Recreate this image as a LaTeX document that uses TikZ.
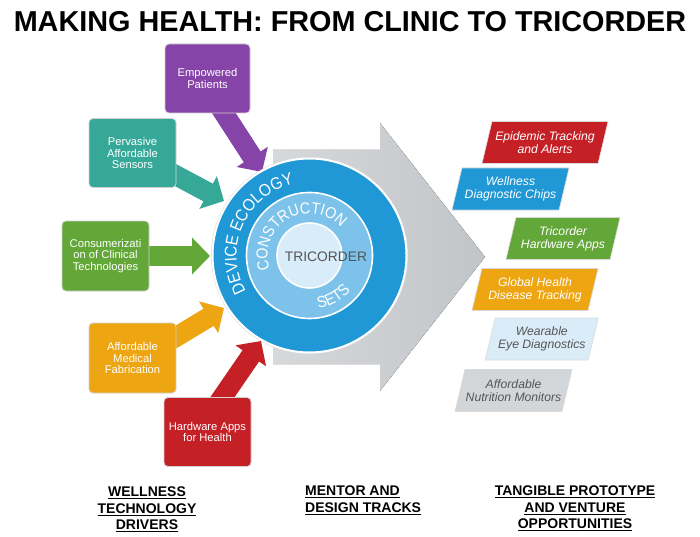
\documentclass[tikz,border=0pt]{standalone}
\usepackage{fontspec}
\setmainfont{Liberation Sans}
\newfontfamily\ringff[FakeStretch=0.9]{Liberation Sans}
\usetikzlibrary{arrows.meta,decorations.text}
\definecolor{cpurple}{HTML}{8644A8}
\definecolor{cteal}{HTML}{35A898}
\definecolor{cgreen}{HTML}{62A738}
\definecolor{corange}{HTML}{EDA512}
\definecolor{cred}{HTML}{C42026}
\definecolor{cblue}{HTML}{1F98D5}
\definecolor{cmid}{HTML}{7CC2EA}
\definecolor{cin}{HTML}{D8ECF9}
\definecolor{cpale}{HTML}{DAECF8}
\definecolor{cgray}{HTML}{D3D6D9}
\definecolor{ctxt}{HTML}{555555}
\definecolor{arrowL}{HTML}{D6D8DA}
\definecolor{arrowR}{HTML}{C2C5C8}
\newsavebox\ulbox
\newcommand\myul[1]{\sbox\ulbox{#1}\rlap{\rule[-2.4pt]{\wd\ulbox}{1.3pt}}\usebox\ulbox}
\newcommand\ringfont{\ringff\fontsize{17}{17}\selectfont}
\newcommand\midfont{\ringff\fontsize{16}{16}\selectfont}
\newcommand\opp[6]{%
  \begin{scope}[shift={(#2)}]
    \filldraw[fill=#4, draw=black!15, line width=0.6pt]
      (-#3/2-5,-21) -- (#3/2-5,-21) -- (#3/2+5,21) -- (-#3/2+5,21) -- cycle;
    \node[optext, text=#5] (#1) at (0,0) {#6};
  \end{scope}}
\begin{document}
\begin{tikzpicture}[x=1pt,y=1pt,
  drv/.style={rounded corners=4pt, draw=black!18, line width=0.8pt,
    minimum width=87pt, minimum height=69pt, align=center, text=white,
    font=\fontsize{11.2}{11.5}\selectfont, inner sep=2pt},
  blockarrow/.style={line width=20pt, -{Triangle[length=18pt,width=36pt]}},
  optext/.style={align=center, font=\fontsize{12.2}{13}\selectfont\itshape},
  lab/.style={align=center, inner sep=0pt, font=\fontsize{14}{16.5}\selectfont\bfseries}]
\useasboundingbox (0,0) rectangle (700,-537);

% title
\node[anchor=base, font=\fontsize{28.8}{30}\selectfont\bfseries] (title) at (350,-32)
  {MAKING HEALTH: FROM CLINIC TO TRICORDER};

% big grey arrow
\fill[left color=arrowL, right color=arrowR]
  (273,-150) -- (380,-150) -- (380,-123) -- (485,-257) -- (380,-391)
  -- (380,-364) -- (273,-364) -- cycle;

% connector end points
\coordinate (C) at (309.5,-255.5);
\coordinate (a1s) at (218,-104); \coordinate (a1e) at (262,-172);
\coordinate (a2s) at (166,-170); \coordinate (a2e) at (224,-201);
\coordinate (a3s) at (140,-256); \coordinate (a3e) at (210,-256);
\coordinate (a4s) at (166,-343); \coordinate (a4e) at (224,-308);
\coordinate (a5s) at (215,-408); \coordinate (a5e) at (261,-341);

\draw[blockarrow, cpurple] (a1s) -- (a1e);
\draw[blockarrow, cteal] (a2s) -- (a2e);
\draw[blockarrow, cgreen] (a3s) -- (a3e);
\draw[blockarrow, corange] (a4s) -- (a4e);
\draw[blockarrow, cred] (a5s) -- (a5e);

\node[drv, fill=cpurple, minimum width=85pt] (emp) at (207.5,-78.5) {Empowered\\Patients};
\node[drv, fill=cteal] (perv) at (132.5,-153) {Pervasive\\Affordable\\Sensors};
\node[drv, fill=cgreen, minimum height=70pt] (cons) at (105.5,-256) {Consumerizati\\on of Clinical\\Technologies};
\node[drv, fill=corange, minimum height=70pt] (fab) at (132.5,-358) {Affordable\\Medical\\Fabrication};
\node[drv, fill=cred] (hw) at (207.5,-432) {Hardware Apps\\for Health};

% circles
\fill[black!15] (C) circle[radius=98.5];
\node[circle, fill=cblue, draw=white, line width=2pt, minimum size=194pt, inner sep=0pt] (ring) at (C) {};
\node[circle, fill=cmid, draw=white, line width=1.6pt, minimum size=126pt, inner sep=0pt] (mid) at (C) {};
\node[circle, fill=cin, draw=white, line width=1.6pt, minimum size=65pt, inner sep=0pt] (core) at (C) {};

\path[decorate, decoration={text along path, text align=center, text color=white,
  text={|\ringfont|DEVICE ECOLOGY}}]
  ([shift={(236:73)}]C) arc[start angle=236, end angle=76, radius=73];
\path[decorate, decoration={text along path, text align=center, text color=white,
  text={|\midfont|CONSTRUCTION}}]
  ([shift={(215:42)}]C) arc[start angle=215, end angle=26, radius=42];
\path[decorate, decoration={text along path, text align=center, text color=white,
  text={|\midfont|SETS}}]
  ([shift={(-105:54)}]C) arc[start angle=-105, end angle=-16, radius=54];

\node[font=\fontsize{13.8}{14}\selectfont, text=ctxt, inner sep=0pt] (tri) at (326,-256.5) {TRICORDER};

% opportunities
\opp{o1}{545,-142.5}{116}{cred}{white}{Epidemic Tracking\\and Alerts}
\opp{o2}{510.5,-189}{107}{cblue}{white}{Wellness\\Diagnostic Chips}
\opp{o3}{563,-238.5}{104}{cgreen}{white}{Tricorder\\Hardware Apps}
\opp{o4}{535,-289.5}{116}{corange}{white}{Global Health\\Disease Tracking}
\opp{o5}{541.75,-339}{103}{cpale}{ctxt}{Wearable\\Eye Diagnostics}
\opp{o6}{513.5,-390.5}{107}{cgray}{ctxt}{Affordable\\Nutrition Monitors}

% bottom labels
\node[lab, anchor=north] (l1) at (147,-487)
  {\myul{WELLNESS}\\\myul{TECHNOLOGY}\\\myul{DRIVERS}};
\node[lab, anchor=north west, align=left] (l2) at (305,-486)
  {\myul{MENTOR AND}\\\myul{DESIGN TRACKS}};
\node[lab, anchor=north] (l3) at (575,-486)
  {\myul{TANGIBLE PROTOTYPE}\\\myul{AND VENTURE}\\\myul{OPPORTUNITIES}};
\end{tikzpicture}
\end{document}
